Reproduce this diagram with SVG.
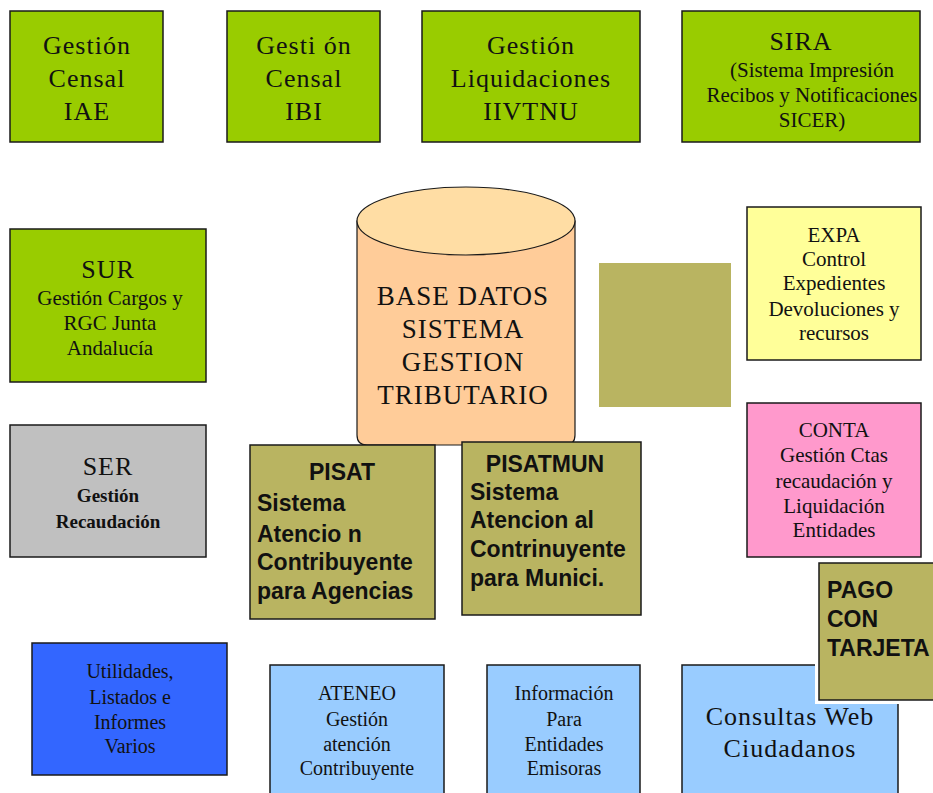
<svg xmlns="http://www.w3.org/2000/svg" width="933" height="793" viewBox="0 0 933 793">
<style>
.box{stroke:#1a1a1a;stroke-width:1.5}
.g{fill:#99CC00}
.ol{fill:#B9B461}
.s{font-family:"Liberation Serif","Times New Roman",serif;fill:#111;text-anchor:middle}
.b{font-family:"Liberation Sans",Arial,sans-serif;font-weight:bold;fill:#111}
.t26{font-size:26px;letter-spacing:1px}
.t21{font-size:21px}
</style>
<rect width="933" height="793" fill="#fff"/>
<g id="connectors"></g>
<g id="iae"><rect class="box g" x="10" y="11" width="153" height="131"/>
<text class="s t26" x="87"><tspan x="87" y="54">Gestión</tspan><tspan x="87" y="87">Censal</tspan><tspan x="87" y="120">IAE</tspan></text></g>
<g id="ibi"><rect class="box g" x="227" y="11" width="153" height="131"/>
<text class="s t26" x="304"><tspan x="304" y="54">Gesti ón</tspan><tspan x="304" y="87">Censal</tspan><tspan x="304" y="120">IBI</tspan></text></g>
<g id="iivtnu"><rect class="box g" x="422" y="11" width="218" height="131"/>
<text class="s t26" x="531"><tspan x="531" y="54">Gestión</tspan><tspan x="531" y="87">Liquidaciones</tspan><tspan x="531" y="120">IIVTNU</tspan></text></g>
<g id="sira"><rect class="box g" x="682" y="11" width="238" height="131"/>
<text class="s t26" x="801" y="50">SIRA</text>
<text class="s t21"><tspan x="812" y="77">(Sistema Impresión</tspan><tspan x="812" y="102">Recibos y Notificaciones</tspan><tspan x="812" y="127">SICER)</tspan></text></g>
<g id="sur"><rect class="box g" x="10" y="229" width="196" height="153"/>
<text class="s t26" x="108" y="278">SUR</text>
<text class="s t21"><tspan x="110" y="305">Gestión Cargos y</tspan><tspan x="110" y="330">RGC Junta</tspan><tspan x="110" y="355">Andalucía</tspan></text></g>
<g id="ser"><rect class="box" fill="#C0C0C0" x="10" y="425" width="196" height="132"/>
<text class="s t26" x="108" y="475">SER</text>
<text class="s" font-size="19" font-weight="bold"><tspan x="108" y="502">Gestión</tspan><tspan x="108" y="528">Recaudación</tspan></text></g>
<g id="basedatos">
<path d="M357,221 V435 Q357,445 367,445 H565 Q575,445 575,435 V221 Z" fill="#FFCC99" stroke="#1a1a1a" stroke-width="1.2"/>
<ellipse cx="466" cy="221" rx="109" ry="34" fill="#FFDDA4" stroke="#1a1a1a" stroke-width="1.2"/>
<text class="s" font-size="27" letter-spacing="1"><tspan x="463" y="305">BASE DATOS</tspan><tspan x="463" y="338">SISTEMA</tspan><tspan x="463" y="371">GESTION</tspan><tspan x="463" y="404">TRIBUTARIO</tspan></text></g>
<g id="olive"><rect class="ol" x="599" y="263" width="132" height="144"/></g>
<g id="expa"><rect class="box" fill="#FFFF99" x="747" y="207" width="174" height="153"/>
<text class="s t21"><tspan x="834" y="242">EXPA</tspan><tspan x="834" y="266">Control</tspan><tspan x="834" y="290">Expedientes</tspan><tspan x="834" y="316">Devoluciones y</tspan><tspan x="834" y="340">recursos</tspan></text></g>
<g id="conta"><rect class="box" fill="#FF99CC" x="747" y="403" width="174" height="154"/>
<text class="s t21"><tspan x="834" y="437">CONTA</tspan><tspan x="834" y="462">Gestión Ctas</tspan><tspan x="834" y="488">recaudación y</tspan><tspan x="834" y="513">Liquidación</tspan><tspan x="834" y="537">Entidades</tspan></text></g>
<g id="pisat"><rect class="box ol" x="250" y="445" width="185" height="174"/>
<text class="b" font-size="23"><tspan x="342" y="480" text-anchor="middle">PISAT</tspan><tspan x="257" y="511">Sistema</tspan><tspan x="257" y="542">Atencio n</tspan><tspan x="257" y="570">Contribuyente</tspan><tspan x="257" y="599">para Agencias</tspan></text></g>
<g id="pisatmun"><rect class="box ol" x="462" y="442" width="179" height="173"/>
<text class="b" font-size="23"><tspan x="545" y="472" text-anchor="middle">PISATMUN</tspan><tspan x="470" y="500">Sistema</tspan><tspan x="470" y="528">Atencion al</tspan><tspan x="470" y="557">Contrinuyente</tspan><tspan x="470" y="586">para Munici.</tspan></text></g>
<g id="utilidades"><rect class="box" fill="#3366FF" x="32" y="643" width="195" height="132"/>
<text class="s" font-size="20"><tspan x="130" y="678">Utilidades,</tspan><tspan x="130" y="704">Listados e</tspan><tspan x="130" y="729">Informes</tspan><tspan x="130" y="753">Varios</tspan></text></g>
<g id="ateneo"><rect class="box" fill="#99CCFF" x="270" y="665" width="174" height="140"/>
<text class="s" font-size="20"><tspan x="357" y="700">ATENEO</tspan><tspan x="357" y="726">Gestión</tspan><tspan x="357" y="751">atención</tspan><tspan x="357" y="775">Contribuyente</tspan></text></g>
<g id="informacion"><rect class="box" fill="#99CCFF" x="487" y="665" width="153" height="140"/>
<text class="s" font-size="20"><tspan x="564" y="700">Información</tspan><tspan x="564" y="726">Para</tspan><tspan x="564" y="751">Entidades</tspan><tspan x="564" y="775">Emisoras</tspan></text></g>
<g id="consultas"><rect class="box" fill="#99CCFF" x="682" y="665" width="216" height="140"/>
<text class="s t26"><tspan x="790" y="725">Consultas Web</tspan><tspan x="790" y="757">Ciudadanos</tspan></text></g>
<g id="pago"><rect fill="#fff" x="815" y="559" width="130" height="145"/><rect class="box ol" x="819" y="563" width="125" height="137"/>
<text class="b" font-size="23"><tspan x="827" y="598">PAGO</tspan><tspan x="827" y="627">CON</tspan><tspan x="827" y="656">TARJETA</tspan></text></g>
</svg>
